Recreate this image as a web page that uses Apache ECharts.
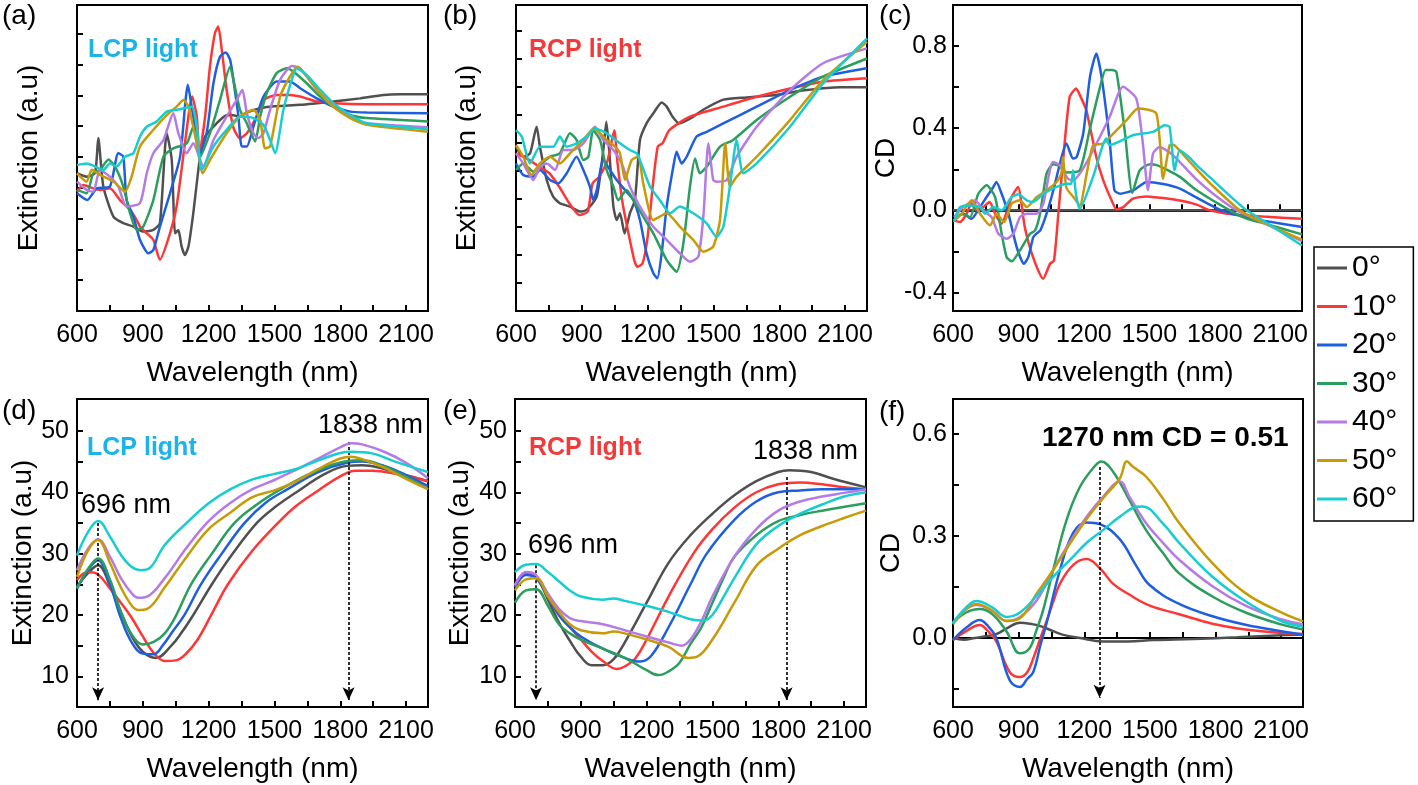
<!DOCTYPE html>
<html><head><meta charset="utf-8">
<script src="https://cdn.jsdelivr.net/npm/echarts@6/dist/echarts.min.js"></script>
<style>html,body{margin:0;padding:0;background:#fff}#c{width:1418px;height:785px}</style>
</head><body><div id="c"></div>
<script>
// ---------- labels / ticks ----------
const ANGLES = ['0°','10°','20°','30°','40°','50°','60°'];
const WL_LABELS = [600,900,1200,1500,1800,2100];
const WL_TICKS = [600,750,900,1050,1200,1350,1500,1650,1800,1950,2100];
const A_TICKS = [1,2,3,4,5,6,7,8,9];
const B_TICKS = [1,2,3,4,5,6,7,8,9,10];
const C_LABELS = [-0.4,0,0.4,0.8];
const C_TICKS = [-0.4,-0.2,0,0.2,0.4,0.6,0.8];
const EXT_LABELS = [10,20,30,40,50];
const EXT_TICKS = [10,15,20,25,30,35,40,45,50];
const F_LABELS = [0,0.3,0.6];
const F_TICKS = [-0.15,0,0.15,0.3,0.45,0.6];

// ---------- (a) simulated LCP extinction (arb. units) ----------
const a0 = [[600,4.47],[644,4.36],[682,4.47],[697,5.61],[720,4.04],[766,3.06],[811,2.85],[857,2.74],[902,2.58],[948,2.63],[978,2.85],[1009,5.77],[1032,4.90],[1047,2.52],[1062,2.63],[1077,2.09],[1092,1.82],[1108,2.09],[1130,3.17],[1161,5.01],[1184,5.66],[1222,5.98],[1252,6.2],[1282,6.35],[1313,6.35],[1343,6.3],[1374,6.45],[1465,6.62],[1617,6.69],[1769,6.80],[1890,6.90],[1997,7.01],[2073,7.03],[2200,7.03]];
const a10 = [[600,3.87],[629,4.09],[674,3.98],[705,3.93],[750,3.98],[796,3.60],[842,3.28],[872,2.95],[887,2.74],[918,2.52],[948,2.31],[978,1.66],[1024,2.52],[1054,3.39],[1092,5.44],[1125,6.96],[1146,6.31],[1158,5.1],[1184,6.31],[1206,7.93],[1229,9.02],[1244,9.23],[1260,8.47],[1282,7.18],[1313,5.95],[1343,5.6],[1374,5.77],[1419,6.31],[1451,6.85],[1510,7.01],[1571,7.01],[1617,6.96],[1693,6.80],[1769,6.74],[1921,6.71],[2200,6.71]];
const a20 = [[600,3.82],[647,3.60],[690,3.98],[750,4.04],[788,5.12],[811,5.01],[826,3.60],[857,3.06],[887,2.31],[925,1.87],[948,1.98],[978,2.74],[1024,3.82],[1070,5.01],[1095,6.85],[1105,7.34],[1125,6.53],[1161,5.12],[1191,5.77],[1222,7.39],[1252,8.26],[1278,8.39],[1298,8.15],[1313,7.50],[1336,6.31],[1351,5.34],[1374,5.34],[1404,5.98],[1450,6.96],[1510,7.45],[1571,7.45],[1617,7.23],[1693,6.90],[1769,6.63],[1845,6.47],[1921,6.44],[2200,6.42]];
const a30 = [[600,3.93],[644,3.82],[674,4.47],[705,4.58],[743,4.92],[773,4.69],[811,4.04],[842,3.17],[872,2.63],[902,2.74],[948,3.60],[994,5.01],[1039,5.28],[1100,5.44],[1130,5.98],[1161,5.01],[1206,5.77],[1252,6.85],[1298,7.93],[1313,7.50],[1343,6.53],[1374,6.09],[1412,5.50],[1435,6.31],[1465,7.07],[1510,7.72],[1556,7.88],[1586,7.77],[1647,7.39],[1708,6.96],[1769,6.63],[1845,6.36],[1921,6.26],[2200,6.15]];
const a40 = [[600,4.20],[644,3.93],[674,3.87],[705,4.58],[750,4.36],[788,4.04],[826,3.39],[887,3.50],[918,4.47],[948,5.12],[994,5.55],[1039,6.42],[1062,5.77],[1100,5.12],[1130,5.44],[1176,4.69],[1222,5.55],[1282,6.31],[1328,6.85],[1354,7.18],[1374,6.42],[1404,5.77],[1427,5.61],[1450,5.77],[1480,6.53],[1526,7.50],[1579,7.95],[1617,7.88],[1693,7.18],[1769,6.63],[1845,6.31],[1921,6.09],[2200,5.96]];
const a50 = [[600,4.47],[644,4.20],[667,4.58],[705,4.42],[766,4.20],[819,3.87],[849,4.36],[887,5.34],[948,5.88],[1009,6.36],[1054,6.63],[1085,6.85],[1108,6.63],[1146,5.44],[1173,4.47],[1206,4.90],[1282,5.77],[1343,6.31],[1404,6.53],[1435,6.20],[1457,5.28],[1480,5.34],[1526,6.96],[1571,7.61],[1606,7.93],[1647,7.61],[1708,7.07],[1769,6.63],[1845,6.26],[1921,6.04],[2200,5.82]];
const a60 = [[600,4.74],[644,4.79],[682,4.69],[720,4.58],[750,4.79],[781,4.69],[819,5.01],[857,5.12],[887,5.66],[918,5.98],[963,6.15],[1009,6.47],[1070,6.55],[1123,6.63],[1146,5.98],[1169,4.58],[1222,5.34],[1282,5.88],[1343,6.31],[1404,6.26],[1450,6.04],[1480,5.55],[1503,5.12],[1541,6.53],[1579,7.50],[1602,7.88],[1647,7.66],[1708,7.18],[1769,6.74],[1845,6.36],[1921,6.09],[2200,5.90]];

// ---------- (b) simulated RCP extinction (arb. units) ----------
const b0 = [[600,5.87],[633,5.51],[664,5.63],[694,6.58],[709,5.87],[740,4.68],[770,4.08],[800,3.85],[846,3.73],[892,3.55],[922,3.61],[968,4.08],[998,5.75],[1012,6.76],[1028,5.39],[1044,3.73],[1059,3.25],[1074,3.49],[1095,2.77],[1119,3.49],[1142,3.96],[1165,6.1],[1195,6.70],[1226,7.06],[1264,7.45],[1287,7.30],[1314,6.94],[1344,6.70],[1408,6.94],[1451,7.18],[1545,7.55],[1651,7.63],[1773,7.71],[1925,7.89],[2076,7.99],[2200,7.99]];
const b10 = [[600,5.63],[661,5.39],[706,5.15],[752,4.92],[797,4.44],[843,3.85],[889,3.43],[927,3.55],[949,4.56],[980,4.80],[1018,5.39],[1048,6.46],[1063,5.27],[1086,3.85],[1116,2.65],[1139,1.82],[1154,1.58],[1177,1.70],[1200,2.65],[1223,4.44],[1246,5.87],[1268,5.99],[1299,6.46],[1393,6.94],[1545,7.30],[1697,7.65],[1849,7.95],[2000,8.19],[2200,8.31]];
const b20 = [[600,5.27],[633,4.86],[679,4.80],[709,5.04],[755,4.68],[793,4.56],[831,4.92],[876,5.51],[907,5.04],[937,4.44],[952,3.96],[968,4.32],[998,5.39],[1028,5.04],[1059,4.68],[1097,4.32],[1135,3.96],[1165,3.25],[1195,2.06],[1226,1.35],[1244,1.17],[1264,2.06],[1287,3.73],[1317,5.15],[1332,5.69],[1355,5.27],[1378,5.51],[1423,6.23],[1469,6.40],[1545,6.70],[1697,7.30],[1849,7.89],[2000,8.37],[2200,8.67]];
const b30 = [[600,5.04],[633,5.27],[679,4.98],[709,5.21],[755,5.51],[800,5.63],[846,6.35],[876,6.11],[907,5.39],[930,5.51],[952,6.46],[983,6.11],[1013,5.04],[1044,4.44],[1066,3.96],[1104,4.32],[1135,3.96],[1180,3.37],[1226,2.77],[1287,1.82],[1332,1.40],[1363,2.42],[1393,4.44],[1416,5.45],[1438,4.92],[1469,5.15],[1530,5.87],[1590,6.11],[1697,6.82],[1849,7.65],[2000,8.37],[2200,9.02]];
const b40 = [[600,5.63],[633,5.27],[679,4.68],[709,5.15],[740,5.27],[778,5.04],[816,5.75],[861,5.75],[907,5.99],[960,6.58],[998,6.11],[1044,5.75],[1082,5.27],[1119,4.44],[1165,3.73],[1226,3.01],[1287,2.54],[1347,2.06],[1393,1.76],[1431,1.94],[1454,3.37],[1477,5.99],[1499,4.68],[1514,4.62],[1560,4.68],[1606,5.51],[1697,6.58],[1849,7.89],[2000,8.85],[2200,9.38]];
const b50 = [[600,5.93],[633,5.51],[671,4.86],[709,5.27],[755,5.51],[800,5.27],[846,5.63],[907,6.11],[955,6.52],[1013,6.11],[1051,5.87],[1074,5.63],[1097,4.68],[1127,5.39],[1157,5.51],[1180,4.56],[1226,3.25],[1287,3.49],[1347,3.01],[1408,2.54],[1454,2.12],[1499,2.30],[1530,3.25],[1554,5.99],[1575,4.44],[1606,4.80],[1697,5.51],[1849,6.82],[2000,8.25],[2200,9.62]];
const b60 = [[600,6.46],[626,6.23],[664,5.27],[709,5.87],[770,5.87],[800,6.23],[831,5.87],[876,5.99],[922,6.23],[960,6.52],[1013,6.35],[1074,5.99],[1119,5.75],[1150,5.63],[1165,5.39],[1211,4.44],[1256,3.96],[1302,3.49],[1347,3.73],[1408,3.49],[1469,3.13],[1514,2.65],[1545,3.01],[1575,4.44],[1606,6.11],[1636,4.92],[1697,5.27],[1849,6.58],[2000,8.13],[2200,9.74]];

// ---------- (c) simulated CD ----------
const c0 = [[600,0],[2200,0]];
const c10 = [[605,-0.049],[632,-0.057],[663,-0.016],[684,0.033],[708,0.0],[739,0.016],[768,0.041],[793,-0.016],[822,-0.065],[869,0.065],[898,0.114],[929,-0.081],[967,-0.228],[1013,-0.333],[1045,-0.26],[1063,-0.244],[1083,-0.016],[1106,0.26],[1135,0.553],[1165,0.593],[1182,0.56],[1211,0.488],[1257,0.26],[1289,0.146],[1327,0.049],[1350,0.005],[1381,0.016],[1425,0.057],[1488,0.068],[1564,0.060],[1640,0.048],[1717,0.028],[1778,0.0],[1870,-0.018],[2022,-0.030],[2200,-0.041]];
const c20 = [[605,-0.049],[647,-0.016],[685,-0.041],[724,0.016],[754,0.065],[785,0.114],[799,0.138],[823,0.081],[854,-0.016],[892,-0.179],[925,-0.26],[945,-0.228],[968,-0.13],[982,-0.114],[1000,-0.098],[1029,-0.016],[1060,0.098],[1098,0.260],[1120,0.325],[1150,0.252],[1167,0.26],[1197,0.374],[1228,0.650],[1257,0.764],[1281,0.650],[1318,0.341],[1340,0.098],[1366,0.081],[1427,0.098],[1488,0.138],[1564,0.128],[1640,0.106],[1717,0.062],[1831,0.0],[1946,-0.035],[2022,-0.050],[2200,-0.081]];
const c30 = [[605,-0.049],[640,-0.016],[678,-0.033],[716,0.081],[754,0.122],[793,0.065],[823,-0.114],[846,-0.228],[870,-0.248],[907,-0.195],[953,-0.114],[976,-0.098],[999,-0.016],[1029,0.179],[1060,0.225],[1090,0.215],[1121,0.185],[1181,0.195],[1228,0.40],[1274,0.60],[1300,0.683],[1330,0.683],[1349,0.675],[1387,0.39],[1422,0.085],[1456,0.195],[1502,0.225],[1534,0.220],[1595,0.190],[1640,0.163],[1717,0.098],[1869,0.0],[1946,-0.04],[2022,-0.062],[2200,-0.117]];
const c40 = [[605,-0.033],[647,0.016],[701,0.049],[739,0.0],[777,-0.033],[808,-0.114],[846,-0.138],[877,-0.114],[907,-0.033],[938,-0.016],[984,-0.016],[1014,0.033],[1058,0.236],[1090,0.22],[1127,0.154],[1151,0.146],[1182,0.18],[1226,0.26],[1318,0.455],[1379,0.602],[1440,0.545],[1470,0.33],[1494,0.098],[1517,0.276],[1547,0.309],[1595,0.28],[1640,0.235],[1717,0.150],[1800,0.075],[1900,0.0],[2022,-0.06],[2200,-0.150]];
const c50 = [[605,-0.049],[640,-0.016],[686,0.049],[724,-0.016],[770,-0.073],[800,-0.016],[834,-0.057],[869,0.033],[907,0.049],[938,0.016],[984,0.065],[1029,0.098],[1075,0.138],[1097,0.18],[1104,0.26],[1120,0.11],[1152,0.065],[1181,0.024],[1213,0.179],[1242,0.317],[1288,0.325],[1335,0.374],[1396,0.439],[1448,0.496],[1532,0.472],[1563,0.154],[1593,0.317],[1610,0.32],[1640,0.29],[1717,0.200],[1800,0.11],[1915,0.0],[2022,-0.06],[2200,-0.143]];
const c60 = [[605,-0.057],[632,0.016],[678,0.024],[724,0.016],[747,-0.016],[785,0.016],[823,0.0],[869,0.065],[900,0.078],[938,0.049],[968,0.041],[1014,0.081],[1075,0.114],[1121,0.13],[1142,0.13],[1150,0.195],[1165,0.07],[1181,0.008],[1242,0.163],[1303,0.35],[1318,0.317],[1425,0.366],[1517,0.382],[1570,0.415],[1593,0.407],[1616,0.195],[1639,0.293],[1686,0.255],[1717,0.220],[1793,0.146],[1870,0.07],[1946,0.0],[2022,-0.05],[2200,-0.171]];

// ---------- (d) measured LCP extinction ----------
const d0 = [[600,24.6],[650,26.8],[696,28.1],[750,24.8],[800,20.5],[850,16.5],[900,14],[960,13],[1030,15],[1080,17.3],[1130,20],[1215,25],[1310,30],[1420,35],[1500,37.5],[1600,40],[1730,43],[1830,44.3],[1900,44.4],[2000,43.8],[2100,42.8],[2200,41.8]];
const d10 = [[600,25.7],[650,27],[696,26.6],[750,24.3],[800,22],[850,19.5],[900,16.5],[950,13.8],[1000,12.5],[1050,12.6],[1100,13.8],[1150,16],[1212,20],[1288,25],[1400,30.5],[1516,35],[1600,37.8],[1700,40.3],[1800,42.6],[1870,43.5],[1950,43.5],[2050,43],[2200,41.8]];
const d20 = [[600,24.3],[650,27.3],[696,28.9],[750,25],[800,19.5],[850,15.5],[900,13.7],[950,13.6],[990,15],[1040,17.5],[1090,20],[1165,25],[1260,30],[1364,35],[1460,38.3],[1560,40.5],[1700,43.3],[1830,44.8],[1900,45],[2000,44.3],[2100,42.8],[2200,41]];
const d30 = [[600,24.3],[650,27.5],[696,29.2],[750,25.8],[800,20.5],[850,16.8],[900,15.2],[950,15.6],[1000,17],[1050,19.8],[1120,25],[1215,30],[1318,35],[1420,38],[1530,40.5],[1680,43.3],[1820,45],[1900,45.2],[2000,44.2],[2100,42.5],[2200,40.5]];
const d40 = [[600,27.3],[650,30.8],[696,32.3],[750,29.5],[800,26],[850,23.5],[880,22.8],[920,23],[1000,26],[1100,31],[1200,35.3],[1300,38.3],[1400,40.5],[1500,42],[1600,43.7],[1700,45.5],[1800,47.3],[1850,48],[1900,47.8],[2000,46.6],[2100,44.8],[2200,42.3]];
const d50 = [[600,26.2],[650,30.5],[696,32.2],[750,28.5],[800,24.5],[850,21.5],[880,20.8],[920,21],[1000,24.5],[1100,29.5],[1200,34],[1300,36.7],[1400,39.2],[1500,40.3],[1600,41.8],[1700,43.8],[1800,45.5],[1850,45.8],[1900,45.4],[2000,44],[2100,42.2],[2200,40.5]];
const d60 = [[600,29.7],[650,33.5],[696,35.3],[750,32.8],[800,29.8],[850,27.8],[890,27.3],[930,27.6],[1000,31.4],[1100,35],[1200,38.2],[1300,40.5],[1400,42.1],[1500,43],[1600,43.8],[1700,45.2],[1800,46.4],[1850,46.6],[1950,46.3],[2050,45],[2200,43.3]];

// ---------- (e) measured RCP extinction ----------
const e0 = [[600,25],[650,26.8],[696,26.2],[750,22.5],[800,18.8],[850,15.8],[900,13.2],[950,11.8],[1000,11.8],[1050,12.8],[1100,15.5],[1200,22],[1300,28.5],[1400,33],[1500,36.5],[1600,39.5],[1700,41.8],[1800,43.3],[1850,43.6],[1950,43.3],[2050,42.2],[2200,40.8]];
const e10 = [[600,24.8],[650,26.8],[696,26.3],[750,23],[800,20],[850,18],[900,16],[950,14],[1000,12.5],[1064,11.2],[1100,11.6],[1150,13],[1200,16],[1300,23],[1413,30],[1500,34],[1600,37.5],[1700,40],[1800,41.3],[1900,41.6],[2000,41.3],[2100,40.8],[2200,40.5]];
const e20 = [[600,24.5],[650,26.5],[696,26],[750,23],[800,20],[850,18],[900,16.5],[1000,14.5],[1100,13],[1170,12.4],[1220,13.3],[1300,18],[1400,25],[1474,30],[1600,35.5],[1700,38.5],[1800,40],[1900,40.3],[2000,40.5],[2200,40.5]];
const e30 = [[600,22],[650,24],[696,24.2],[750,21.5],[800,18.5],[850,17],[900,16],[1000,14.5],[1100,13],[1200,11],[1254,10.2],[1300,10.8],[1350,12.2],[1400,15.3],[1450,18],[1500,22],[1550,26],[1600,29.5],[1700,33],[1800,35.3],[1900,36.3],[2000,37],[2200,38.2]];
const e40 = [[600,24.8],[650,27],[696,26.5],[750,23.5],[800,21],[850,19.5],[900,19],[1000,18.5],[1100,17.5],[1200,16.5],[1300,15.5],[1360,15],[1400,16],[1450,19],[1500,23],[1600,29.5],[1700,34],[1800,37],[1900,38.5],[2000,39.3],[2100,39.9],[2200,40.5]];
const e50 = [[600,24],[650,25.8],[696,26],[750,23],[800,20.5],[850,18.5],[900,17.5],[1000,17],[1050,17.3],[1100,17],[1200,16],[1300,14.8],[1390,13],[1430,13.2],[1500,16],[1600,22],[1700,28],[1800,30.8],[1900,33],[2000,34.5],[2100,35.8],[2200,37]];
const e60 = [[600,27],[650,28.2],[696,28.3],[750,27],[800,25.5],[850,24],[900,23],[1000,22.5],[1050,22.7],[1100,22.3],[1200,21.5],[1300,20.5],[1400,19.3],[1459,19.1],[1500,20],[1550,22.9],[1600,26],[1700,31.5],[1800,34.5],[1900,36.5],[2000,38],[2100,39.3],[2200,40]];

// ---------- (f) measured CD ----------
const f0 = [[600,0],[650,-0.005],[700,0.0],[750,0.005],[800,0.012],[850,0.03],[906,0.045],[967,0.04],[1000,0.035],[1058,0.02],[1100,0.01],[1180,0.0],[1287,-0.01],[1400,-0.01],[1516,-0.006],[1700,-0.003],[1900,0.002],[2100,0.008],[2200,0.01]];
const f10 = [[600,-0.006],[660,0.02],[722,0.038],[760,0.02],[798,-0.01],[859,-0.1],[906,-0.115],[940,-0.1],[967,-0.06],[1000,0.0],[1028,0.05],[1060,0.11],[1089,0.16],[1150,0.215],[1211,0.232],[1272,0.205],[1331,0.16],[1400,0.13],[1500,0.095],[1634,0.07],[1786,0.042],[1937,0.025],[2100,0.015],[2200,0.012]];
const f20 = [[600,-0.006],[660,0.03],[722,0.053],[760,0.035],[798,0.0],[859,-0.124],[906,-0.144],[940,-0.12],[967,-0.1],[1000,-0.02],[1028,0.044],[1089,0.2],[1150,0.31],[1211,0.34],[1272,0.335],[1363,0.29],[1440,0.21],[1500,0.155],[1634,0.1],[1786,0.064],[1937,0.039],[2100,0.02],[2200,0.01]];
const f30 = [[600,0.044],[660,0.075],[722,0.085],[780,0.07],[844,0.02],[906,-0.045],[950,-0.03],[980,0.02],[1012,0.082],[1058,0.2],[1119,0.347],[1180,0.444],[1241,0.5],[1278,0.519],[1331,0.49],[1406,0.406],[1482,0.318],[1560,0.25],[1634,0.19],[1786,0.122],[1937,0.075],[2100,0.04],[2200,0.025]];
const f40 = [[600,0.045],[660,0.085],[707,0.097],[780,0.08],[844,0.05],[906,0.062],[982,0.11],[1058,0.2],[1135,0.283],[1211,0.357],[1287,0.416],[1363,0.46],[1406,0.416],[1482,0.338],[1560,0.28],[1634,0.23],[1786,0.152],[1937,0.095],[2100,0.055],[2200,0.04]];
const f50 = [[600,0.04],[660,0.085],[707,0.1],[780,0.08],[844,0.05],[906,0.058],[982,0.13],[1058,0.2],[1135,0.278],[1211,0.35],[1287,0.412],[1363,0.47],[1395,0.52],[1420,0.505],[1482,0.475],[1560,0.41],[1634,0.338],[1786,0.22],[1937,0.132],[2100,0.075],[2200,0.049]];
const f60 = [[600,0.044],[660,0.09],[707,0.109],[780,0.09],[844,0.062],[906,0.075],[982,0.124],[1058,0.18],[1135,0.23],[1211,0.28],[1287,0.318],[1363,0.357],[1440,0.386],[1467,0.387],[1558,0.338],[1634,0.28],[1786,0.18],[1937,0.108],[2100,0.05],[2200,0.034]];

// ---------- annotation arrows (wavelength, from, to) ----------
const D_ARROWS = [[696,35.0,6.1],[1838,48.2,6.1]];
const E_ARROWS = [[696,28.1,6.1],[1838,42.5,6.1]];
const F_ARROWS = [[1270,0.503,-0.176]];

// ---------- rendering ----------
const FF = '"Liberation Sans", Arial, sans-serif';
const COLORS = ['#505050','#ff3636','#1f5fdf','#2b9e5e','#b57ae6','#c99a08','#17cdd0'];
const PANEL_DATA = [
  [a0,a10,a20,a30,a40,a50,a60],
  [b0,b10,b20,b30,b40,b50,b60],
  [c0,c10,c20,c30,c40,c50,c60],
  [d0,d10,d20,d30,d40,d50,d60],
  [e0,e10,e20,e30,e40,e50,e60],
  [f0,f10,f20,f30,f40,f50,f60]
];
const grids = [
  {left:77, top:5, width:351, height:306},
  {left:516, top:5, width:351, height:306},
  {left:953, top:5, width:349, height:306},
  {left:77, top:399, width:351, height:308},
  {left:515, top:399, width:351, height:308},
  {left:953, top:399, width:350, height:308}
].map(g => Object.assign({show:true, borderColor:'#000', borderWidth:2, containLabel:false}, g));

const tickStyle = {color:'#000', width:2};
function xAxis(i){
  return {type:'value', gridIndex:i, min:600, max:2200,
    name:'Wavelength (nm)', nameLocation:'middle', nameGap:48,
    nameTextStyle:{fontSize:28, fontFamily:FF, color:'#000'},
    axisLine:{show:true, lineStyle:{color:'#000', width:2}},
    axisTick:{show:true, inside:true, length:6, lineStyle:tickStyle, customValues:WL_TICKS},
    axisLabel:{show:true, customValues:WL_LABELS, margin:12, fontSize:25, fontFamily:FF, color:'#000', formatter: v => String(v)},
    splitLine:{show:false}};
}
function yAxis(i, min, max, ticks, labels, name, gap, fmt, margin){
  return {type:'value', gridIndex:i, min:min, max:max,
    name:name, nameLocation:'middle', nameGap:gap,
    nameTextStyle:{fontSize:28, fontFamily:FF, color:'#000'},
    axisLine:{show:true, lineStyle:{color:'#000', width:2}},
    axisTick:{show:true, inside:true, length:6, lineStyle:tickStyle, customValues:ticks},
    axisLabel: labels ? {show:true, customValues:labels, margin:margin, fontSize:25, fontFamily:FF, color:'#000', formatter:fmt}
                      : {show:false},
    splitLine:{show:false}};
}
const one = v => Number(v).toFixed(1);
const xAxes = [0,1,2,3,4,5].map(xAxis);
const yAxes = [
  yAxis(0, 0, 9.93, A_TICKS, null, 'Extinction (a.u)', 34),
  yAxis(1, 0, 10.93, B_TICKS, null, 'Extinction (a.u)', 35),
  yAxis(2, -0.49, 1.0, C_TICKS, C_LABELS, 'CD', 50, one, 6),
  yAxis(3, 5, 55.2, EXT_TICKS, EXT_LABELS, 'Extinction (a.u)', 39, v => String(v), 8),
  yAxis(4, 5, 55.2, EXT_TICKS, EXT_LABELS, 'Extinction (a.u)', 41, v => String(v), 8),
  yAxis(5, -0.203, 0.703, F_TICKS, F_LABELS, 'CD', 48, one, 6)
];

const series = [];
PANEL_DATA.forEach((arrs, p) => {
  arrs.forEach((arr, k) => {
    series.push({type:'line', name:ANGLES[k], xAxisIndex:p, yAxisIndex:p, data:arr,
      showSymbol:false, symbol:'none', smooth: p < 3 ? 0.2 : 0.4,
      lineStyle:{color:COLORS[k], width:2.5}, itemStyle:{color:COLORS[k]},
      z: 2 + k, animation:false, silent:true});
  });
});
function arrowSeries(p, arrows){
  return {type:'line', xAxisIndex:p, yAxisIndex:p, data:[], symbol:'none', silent:true, animation:false, z:20,
    markLine:{silent:true, animation:false, symbol:['none','arrow'], symbolSize:[9,13],
      label:{show:false}, lineStyle:{color:'#000', type:[3,2], width:1.6},
      data: arrows.map(a => [{coord:[a[0], a[1]]}, {coord:[a[0], a[2]]}])}};
}
series.push(arrowSeries(3, D_ARROWS), arrowSeries(4, E_ARROWS), arrowSeries(5, F_ARROWS));

function txt(text, left, top, size, color, bold){
  return {type:'text', left:left, top:top, z:50, silent:true,
    style:{text:text, fontSize:size, fontFamily:FF, fill:color||'#000', fontWeight:bold?'bold':'normal'}};
}
const graphic = [
  txt('(a)', 2, 2, 28), txt('(b)', 443, 2, 28), txt('(c)', 879, 2, 28),
  txt('(d)', 2, 397, 28), txt('(e)', 443, 397, 28), txt('(f)', 879, 398, 28),
  txt('LCP light', 88, 38, 25, '#1ab4e8', true),
  txt('RCP light', 529, 38, 25, '#f23a3a', true),
  txt('LCP light', 87, 436, 25, '#1ab4e8', true),
  txt('RCP light', 529, 436, 25, '#f23a3a', true),
  txt('696 nm', 81, 492, 27), txt('1838 nm', 318, 412, 27),
  txt('696 nm', 528, 532, 27), txt('1838 nm', 753, 438, 27),
  txt('1270 nm CD = 0.51', 1042, 424, 28, '#000', true)
];

const chart = echarts.init(document.getElementById('c'), null, {renderer:'canvas'});
chart.setOption({
  backgroundColor:'#fff', animation:false,
  grid: grids, xAxis: xAxes, yAxis: yAxes, series: series, graphic: graphic,
  legend:{show:true, orient:'vertical', left:1314, top:247, data:ANGLES, icon:'rect',
    itemWidth:30, itemHeight:3, itemGap:8.5, selectedMode:false,
    textStyle:{fontSize:30, fontFamily:FF, color:'#000', lineHeight:30},
    borderColor:'#000', borderWidth:1.5, padding:[6,16,7,3]}
});
</script></body></html>
